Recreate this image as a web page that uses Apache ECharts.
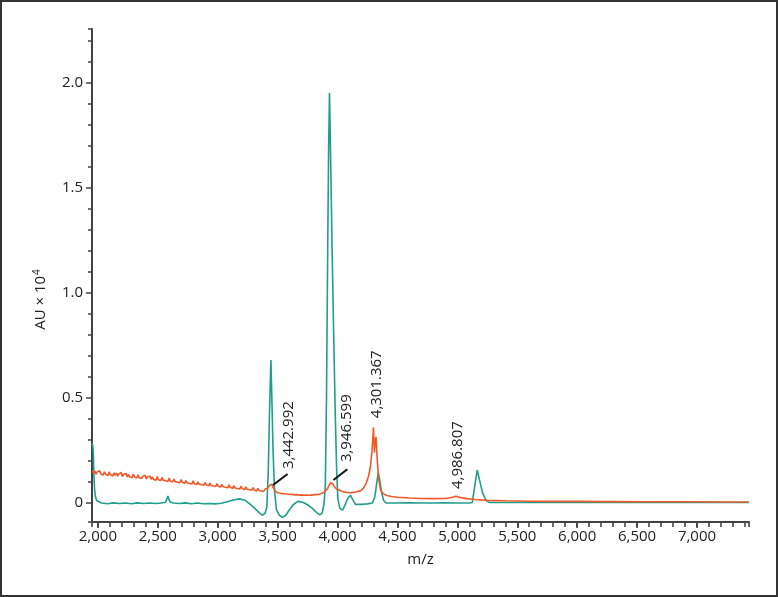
<!DOCTYPE html>
<html>
<head>
<meta charset="utf-8">
<script src="https://cdn.jsdelivr.net/npm/echarts@6/dist/echarts.min.js"></script>
<style>
html,body{margin:0;padding:0;background:#fff;}
#chart{width:778px;height:597px;}
</style>
</head>
<body>
<div id="chart"></div>
<script>
// m/z range and intensity range (AU x 10^4)
const xRange = [1951, 7434];
const yRange = [-0.09, 2.254];

// Teal trace [m/z, AU x 10^4]
const tealTrace = [
[1953,0.285],[1958,0.27],[1962,0.24],[1967,0.13],[1973,0.06],[1980,0.03],[1990,0.012],[2005,0.004],
[2030,0.0],[2080,-0.003],[2130,0.001],[2180,-0.002],[2230,0.0],[2280,-0.003],[2330,0.001],[2380,-0.002],
[2430,0.0],[2480,-0.002],[2530,0.0],[2565,0.004],[2584,0.033],[2600,0.006],[2630,0.0],[2680,-0.002],
[2730,0.001],[2780,-0.003],[2830,0.0],[2880,-0.003],[2930,-0.002],[2980,-0.004],[3030,-0.001],[3080,0.006],
[3130,0.015],[3180,0.02],[3230,0.013],[3270,-0.005],[3310,-0.025],[3350,-0.048],[3375,-0.058],[3395,-0.048],
[3410,-0.02],[3422,0.15],[3432,0.42],[3444,0.68],[3452,0.5],[3462,0.25],[3474,0.06],[3490,-0.03],
[3515,-0.058],[3540,-0.068],[3565,-0.06],[3595,-0.035],[3630,-0.008],[3670,0.008],[3710,0.004],[3750,-0.008],
[3790,-0.025],[3825,-0.045],[3852,-0.056],[3872,-0.048],[3888,0.0],[3898,0.08],[3908,0.5],[3918,1.2],
[3926,1.7],[3933,1.95],[3942,1.65],[3955,1.2],[3968,0.8],[3982,0.4],[3993,0.15],[4003,0.02],
[4020,-0.025],[4042,-0.034],[4062,-0.01],[4085,0.022],[4108,0.037],[4128,0.015],[4150,-0.006],[4200,-0.006],
[4250,-0.004],[4290,0.0],[4312,0.03],[4328,0.1],[4340,0.145],[4352,0.11],[4368,0.05],[4385,0.012],
[4405,0.0],[4500,0.0],[4600,0.001],[4700,0.0],[4800,0.0],[4900,0.001],[5000,0.0],[5100,0.0],
[5125,0.003],[5145,0.08],[5166,0.157],[5185,0.11],[5210,0.05],[5240,0.012],[5265,0.003],[5400,0.003],
[5800,0.003],[6200,0.003],[6600,0.003],[7000,0.003],[7434,0.003]
];

// Orange trace [m/z, AU x 10^4]
const orangeTrace = [
[1955,0.156],[1965,0.141],[1975,0.152],[1985,0.137],[1995,0.149],[2005,0.140],[2015,0.154],[2025,0.138],[2035,0.147],[2045,0.133],
[2055,0.149],[2065,0.137],[2075,0.145],[2085,0.131],[2095,0.148],[2105,0.135],[2115,0.142],[2125,0.129],[2135,0.144],[2145,0.132],
[2155,0.143],[2165,0.128],[2175,0.139],[2185,0.131],[2195,0.145],[2205,0.126],[2215,0.137],[2225,0.129],[2235,0.140],[2245,0.124],
[2255,0.136],[2265,0.125],[2275,0.133],[2285,0.120],[2295,0.138],[2305,0.124],[2315,0.130],[2325,0.119],[2335,0.134],[2345,0.121],
[2355,0.130],[2365,0.117],[2375,0.127],[2385,0.120],[2395,0.132],[2405,0.114],[2415,0.125],[2425,0.116],[2435,0.128],[2445,0.113],
[2455,0.124],[2465,0.112],[2475,0.121],[2485,0.108],[2495,0.126],[2505,0.111],[2515,0.118],[2525,0.107],[2535,0.122],[2545,0.109],
[2555,0.118],[2565,0.106],[2575,0.115],[2585,0.103],[2595,0.119],[2605,0.104],[2615,0.112],[2625,0.101],[2635,0.114],[2645,0.102],
[2655,0.111],[2665,0.099],[2675,0.108],[2685,0.097],[2695,0.112],[2705,0.098],[2715,0.105],[2725,0.094],[2735,0.107],[2745,0.096],
[2755,0.105],[2765,0.093],[2775,0.101],[2785,0.091],[2795,0.106],[2805,0.092],[2815,0.099],[2825,0.088],[2835,0.101],[2845,0.090],
[2855,0.099],[2865,0.087],[2875,0.095],[2885,0.085],[2895,0.098],[2905,0.086],[2915,0.093],[2925,0.082],[2935,0.095],[2945,0.084],
[2955,0.092],[2965,0.081],[2975,0.089],[2985,0.079],[2995,0.093],[3005,0.080],[3015,0.086],[3025,0.076],[3035,0.089],[3045,0.078],
[3055,0.086],[3065,0.075],[3075,0.083],[3085,0.073],[3095,0.087],[3105,0.074],[3115,0.080],[3125,0.070],[3135,0.083],[3145,0.072],
[3155,0.080],[3165,0.069],[3175,0.077],[3185,0.067],[3195,0.081],[3205,0.068],[3215,0.074],[3225,0.064],[3235,0.077],[3245,0.066],
[3255,0.074],[3265,0.063],[3275,0.071],[3285,0.061],[3295,0.074],[3305,0.062],[3315,0.068],[3325,0.058],[3335,0.070],[3345,0.060],
[3355,0.067],[3365,0.057],[3375,0.065],[3385,0.056],[3395,0.066],[3405,0.060],[3415,0.070],[3425,0.072],[3435,0.085],[3445,0.080],
[3452,0.090],[3460,0.076],[3470,0.072],[3480,0.058],[3490,0.060],[3500,0.049],[3510,0.057],[3520,0.047],[3530,0.055],[3540,0.045],
[3550,0.053],[3560,0.044],[3570,0.052],[3580,0.043],[3590,0.050],[3600,0.041],[3610,0.049],[3620,0.042],[3630,0.048],[3640,0.039],
[3650,0.047],[3660,0.040],[3670,0.046],[3680,0.038],[3690,0.047],[3700,0.039],[3710,0.045],[3720,0.037],[3730,0.046],[3740,0.038],
[3750,0.045],[3760,0.037],[3770,0.044],[3780,0.038],[3790,0.046],[3800,0.039],[3810,0.045],[3820,0.040],[3830,0.047],[3840,0.041],
[3850,0.048],[3860,0.044],[3870,0.050],[3880,0.049],[3890,0.056],[3900,0.058],[3910,0.066],[3920,0.072],[3930,0.085],[3940,0.096],
[3951,0.103],[3960,0.092],[3970,0.081],[3980,0.072],[3990,0.068],[4000,0.060],[4010,0.063],[4020,0.054],[4030,0.057],[4040,0.050],
[4050,0.054],[4060,0.046],[4070,0.051],[4080,0.045],[4090,0.050],[4100,0.044],[4110,0.049],[4120,0.046],[4130,0.051],[4140,0.048],
[4150,0.053],[4160,0.051],[4190,0.058],[4215,0.070],[4240,0.095],[4260,0.130],[4275,0.175],[4288,0.250],
[4300,0.360],[4308,0.240],[4314,0.290],[4321,0.315],[4330,0.220],[4342,0.120],[4358,0.065],[4380,0.045],
[4410,0.036],[4450,0.031],[4500,0.028],[4600,0.024],[4700,0.022],[4800,0.021],[4900,0.022],[4960,0.028],
[4987,0.032],[5020,0.027],[5080,0.021],[5150,0.017],[5250,0.013],[5400,0.011],[5600,0.009],[5800,0.008],
[6000,0.008],[6300,0.007],[6600,0.006],[6900,0.006],[7200,0.005],[7434,0.005]
];

// Peak annotations: label text, label centre [m/z, AU], optional leader line
const peakLabels = ['3,442.992', '3,946.599', '4,301.367', '4,986.807'];
const peakLabelPos = [[3595, 0.323], [4079, 0.356], [4329, 0.565], [5005, 0.228]];
const leaderLines = [
  [[3462, 0.086], [3583, 0.138]],
  [[3966, 0.110], [4082, 0.161]]
];

const FONT = '"Open Sans", "Noto Sans", sans-serif';
const axisColor = '#444';

const chart = echarts.init(document.getElementById('chart'), null, {renderer: 'canvas'});

const gridBox = {left: 92, right: 29, top: 29, bottom: 75, containLabel: false};

const commonX = {
  type: 'value', min: xRange[0], max: xRange[1], position: 'bottom',
  splitLine: {show: false}
};
const commonY = {
  type: 'value', min: yRange[0], max: yRange[1], position: 'left',
  splitLine: {show: false}
};

chart.setOption({
  animation: false,
  backgroundColor: '#ffffff',
  grid: [Object.assign({}, gridBox), Object.assign({}, gridBox)],
  graphic: [{
    type: 'rect', silent: true,
    shape: {x: 1, y: 1, width: 776, height: 595},
    style: {fill: 'none', stroke: '#333', lineWidth: 2}
  }],
  xAxis: [
    Object.assign({}, commonX, {
      gridIndex: 0,
      splitNumber: 11,
      name: 'm/z', nameLocation: 'middle', nameGap: 30,
      nameTextStyle: {fontFamily: FONT, fontSize: 15, color: '#222'},
      axisLine: {show: true, onZero: false, lineStyle: {color: axisColor, width: 2}},
      axisTick: {show: true, length: 6, lineStyle: {color: axisColor, width: 1.6}},
      axisLabel: {
        fontFamily: FONT, fontSize: 15, color: '#222', margin: 7,
        showMinLabel: false, showMaxLabel: false,
        formatter: v => (v % 500 === 0 ? v.toLocaleString('en-US') : '')
      }
    }),
    Object.assign({}, commonX, {
      gridIndex: 1,
      splitNumber: 55,
      axisLine: {show: false, onZero: false},
      axisTick: {show: true, length: 5, lineStyle: {color: axisColor, width: 1.6}},
      axisLabel: {show: false}
    })
  ],
  yAxis: [
    Object.assign({}, commonY, {
      gridIndex: 0,
      splitNumber: 5,
      name: '{a|AU × 10}{s|4}', nameLocation: 'middle', nameGap: 42,
      nameTextStyle: {
        fontFamily: FONT, fontSize: 15, color: '#222', padding: [0, 48, 0, 0],
        rich: {
          a: {fontFamily: FONT, fontSize: 15, color: '#222'},
          s: {fontFamily: FONT, fontSize: 10, color: '#222', verticalAlign: 'top', padding: [0, 0, 8, 1]}
        }
      },
      axisLine: {show: true, onZero: false, lineStyle: {color: axisColor, width: 2}},
      axisTick: {show: true, length: 6, lineStyle: {color: axisColor, width: 1.5}},
      axisLabel: {
        fontFamily: FONT, fontSize: 15, color: '#222', margin: 9,
        showMinLabel: false, showMaxLabel: false,
        formatter: v => {
          const r = Math.round(v * 10) / 10;
          if (Math.abs(r - v) > 1e-6) return '';
          return r === 0 ? '0' : r.toFixed(1);
        }
      }
    }),
    Object.assign({}, commonY, {
      gridIndex: 1,
      splitNumber: 23,
      axisLine: {show: false, onZero: false},
      axisTick: {show: true, length: 4, lineStyle: {color: axisColor, width: 1.5}},
      axisLabel: {show: false}
    })
  ],
  series: [
    {
      type: 'line', name: 'teal', data: tealTrace,
      xAxisIndex: 0, yAxisIndex: 0,
      showSymbol: false, symbol: 'none', smooth: false,
      lineStyle: {color: '#1f9e8b', width: 1.6},
      itemStyle: {color: '#1f9e8b'},
      z: 2
    },
    {
      type: 'line', name: 'orange', data: orangeTrace,
      xAxisIndex: 0, yAxisIndex: 0,
      showSymbol: false, symbol: 'none', smooth: false,
      lineStyle: {color: '#f0592a', width: 1.6},
      itemStyle: {color: '#f0592a'},
      z: 3,
      markPoint: {
        silent: true,
        symbol: 'circle', symbolSize: 1,
        itemStyle: {color: 'rgba(0,0,0,0)'},
        label: {
          show: true, position: 'inside', rotate: 90,
          formatter: p => p.name,
          fontFamily: FONT, fontSize: 15, color: '#222'
        },
        data: peakLabels.map((t, i) => ({name: t, coord: peakLabelPos[i]}))
      },
      markLine: {
        silent: true, symbol: ['none', 'none'],
        label: {show: false},
        lineStyle: {color: '#111', width: 2, type: 'solid'},
        data: leaderLines.map(l => [{coord: l[0]}, {coord: l[1]}])
      }
    }
  ]
});
</script>
</body>
</html>
